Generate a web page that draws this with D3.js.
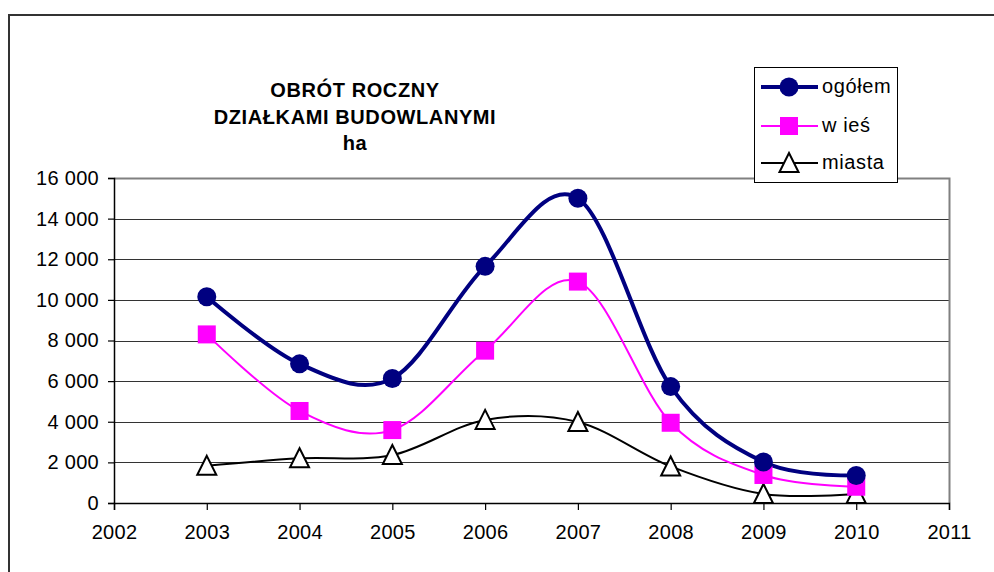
<!DOCTYPE html>
<html><head><meta charset="utf-8">
<script src="https://cdn.jsdelivr.net/npm/d3@7"></script>
<style>body{margin:0;background:#fff}svg{display:block;font-family:"Liberation Sans",Arial,sans-serif}</style>
</head><body>
<script>
const years = [2003,2004,2005,2006,2007,2008,2009,2010];
const ogolem = [10150,6850,6130,11650,15000,5730,2020,1350];
const wies   = [8300,4530,3590,7500,10900,3950,1380,800];
const miasta = [1830,2200,2360,4090,3990,1800,440,440];
const yTicks = [0,2000,4000,6000,8000,10000,12000,14000,16000];
const xTicks = [2002,2003,2004,2005,2006,2007,2008,2009,2010,2011];
const titleLines = ["OBRÓT ROCZNY","DZIAŁKAMI BUDOWLANYMI","ha"];
const seriesNames = ["ogółem","w ieś","miasta"];

const W=994,H=572;
const svg=d3.select("body").append("svg").attr("width",W).attr("height",H);
// outer frame
svg.append("rect").attr("x",9).attr("y",15).attr("width",W).attr("height",H)
  .attr("fill","#fff").attr("stroke","#333").attr("stroke-width",2);

const L=114,R=949,T=178,B=503;
const x=d3.scaleLinear().domain([2002,2011]).range([L,R]);
const y=d3.scaleLinear().domain([0,16000]).range([B,T]);

// grid
svg.append("g").selectAll("line").data(yTicks.filter(d=>d>0 && d<16000)).join("line")
  .attr("x1",L).attr("x2",R).attr("y1",d=>Math.round(y(d))+0.5).attr("y2",d=>Math.round(y(d))+0.5)
  .attr("stroke","#333").attr("stroke-width",1);
// plot frame top/right
svg.append("path").attr("d",`M${L},${T+0.5}H${R+0.5}V${B}`).attr("fill","none").attr("stroke","#808080").attr("stroke-width",2);

// axes
const yAxis=d3.axisLeft(y).tickValues(yTicks).tickSize(6).tickPadding(9)
  .tickFormat(d=>d3.format(",")(d).replace(/,/g," "));
const gy=svg.append("g").attr("transform",`translate(${L},0)`).call(yAxis);
const xAxis=d3.axisBottom(x).tickValues(xTicks).tickSize(7).tickPadding(15).tickFormat(d3.format("d"));
const gx=svg.append("g").attr("transform",`translate(0,${B})`).call(xAxis);
[gy,gx].forEach(g=>{
  g.selectAll("path").attr("stroke","#000").attr("stroke-width",1.5);
  g.selectAll("line").attr("stroke","#000").attr("stroke-width",1.2);
  g.selectAll("text").attr("fill","#000").style("font-size","20px").style("letter-spacing","0.3px");
});

const line=d3.line().x((d,i)=>x(years[i])).y(d=>y(d)).curve(d3.curveCatmullRom.alpha(0));
const series=[
  {name:seriesNames[0],vals:ogolem,color:"#000080",w:4,marker:"circle"},
  {name:seriesNames[1],vals:wies,color:"#FF00FF",w:2,marker:"square"},
  {name:seriesNames[2],vals:miasta,color:"#000",w:2,marker:"triangle"}
];
function marker(g,type,cx,cy,color){
  if(type==="circle") g.append("circle").attr("cx",cx).attr("cy",cy).attr("r",9.5).attr("fill",color);
  else if(type==="square") g.append("rect").attr("x",cx-9).attr("y",cy-9).attr("width",18).attr("height",18).attr("fill",color);
  else g.append("path").attr("d",`M${cx},${cy-10}L${cx+9.5},${cy+9}L${cx-9.5},${cy+9}Z`).attr("fill","#fff").attr("stroke","#000").attr("stroke-width",2);
}
series.slice().reverse().forEach(s=>{
  svg.append("path").attr("d",line(s.vals)).attr("fill","none").attr("stroke",s.color).attr("stroke-width",s.w);
});
series.slice().reverse().forEach(s=>{
  const g=svg.append("g");
  s.vals.forEach((v,i)=>marker(g,s.marker,x(years[i]),y(v),s.color));
});

// title
const tt=svg.append("text").attr("text-anchor","middle").attr("font-weight","bold").style("font-size","20px").style("letter-spacing","0.6px").attr("fill","#000");
titleLines.forEach((t,i)=>tt.append("tspan").attr("x",355).attr("y",97+i*26.5).text(t));

// legend
svg.append("rect").attr("x",754.5).attr("y",67.5).attr("width",143).attr("height",115).attr("fill","#fff").attr("stroke","#000").attr("stroke-width",1);
const ly=[87,126,163];
series.forEach((s,i)=>{
  const g=svg.append("g");
  g.append("line").attr("x1",761).attr("x2",818).attr("y1",ly[i]).attr("y2",ly[i]).attr("stroke",s.color).attr("stroke-width",s.w);
  marker(g,s.marker,789,ly[i],s.color);
  g.append("text").attr("x",822).attr("y",ly[i]+6).style("font-size","20px").style("letter-spacing","0.6px").attr("fill","#000").text(s.name);
});
</script>
</body></html>
